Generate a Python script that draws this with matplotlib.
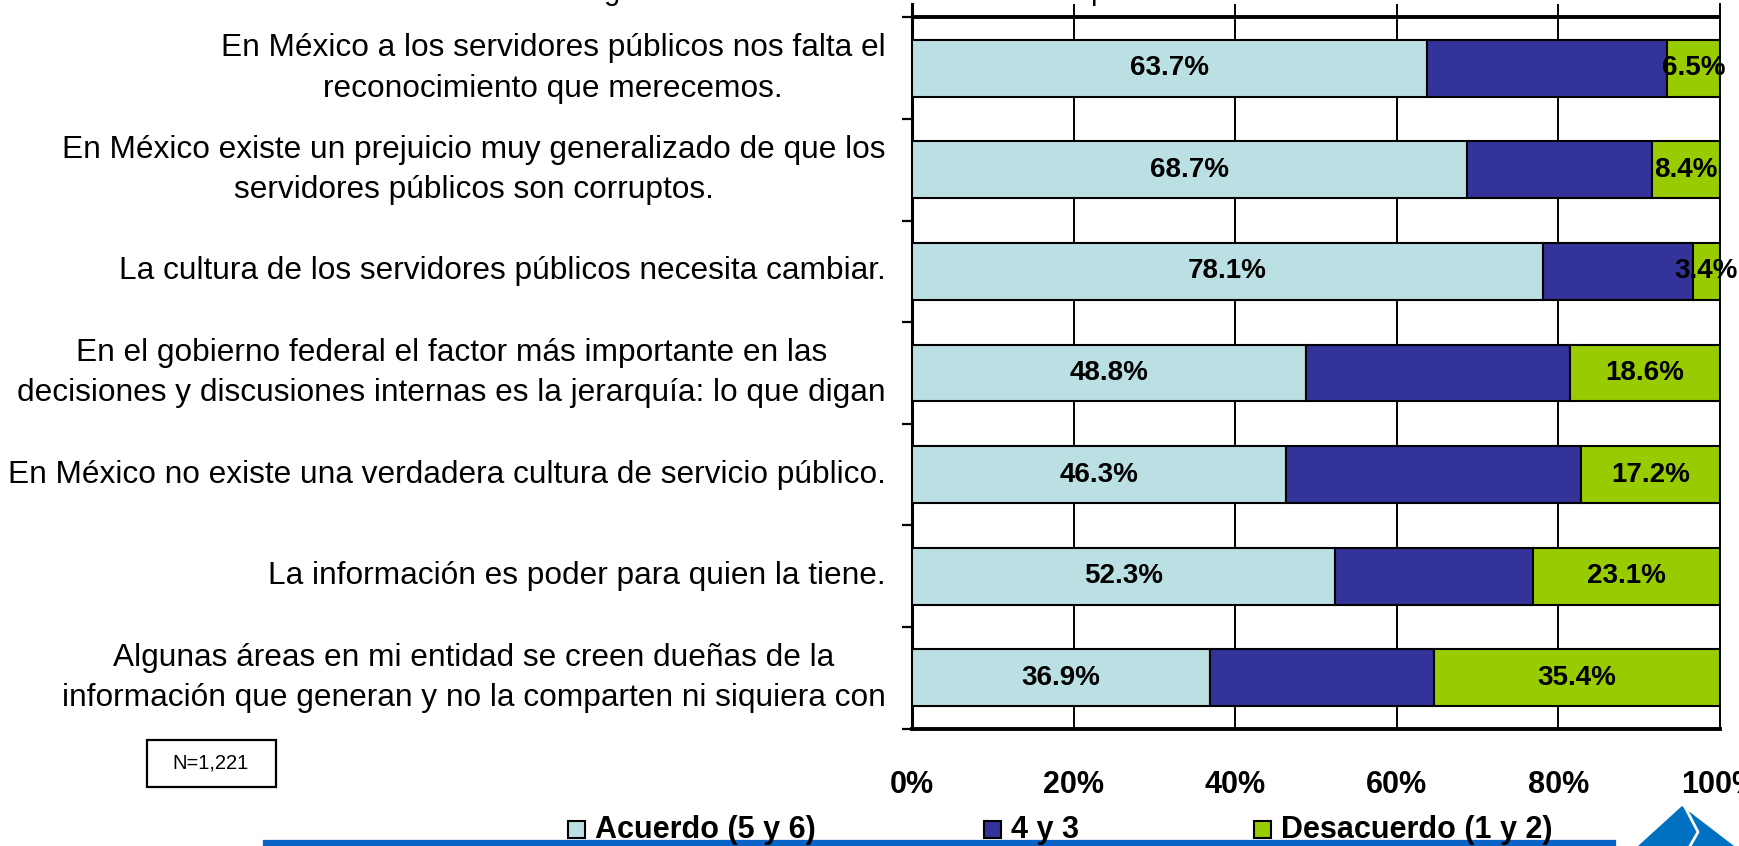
import numpy as np
import matplotlib

matplotlib.use("Agg")
import matplotlib.pyplot as plt
from matplotlib.patches import Rectangle, Polygon
from matplotlib.lines import Line2D

plt.rcParams["font.family"] = ["Liberation Sans", "DejaVu Sans"]

categories = [
    "En México a los servidores públicos nos falta el\nreconocimiento que merecemos.",
    "En México existe un prejuicio muy generalizado de que los\nservidores públicos son corruptos.",
    "La cultura de los servidores públicos necesita cambiar.",
    "En el gobierno federal el factor más importante en las\ndecisiones y discusiones internas es la jerarquía: lo que digan",
    "En México no existe una verdadera cultura de servicio público.",
    "La información es poder para quien la tiene.",
    "Algunas áreas en mi entidad se creen dueñas de la\ninformación que generan y no la comparten ni siquiera con",
]
acuerdo = [63.7, 68.7, 78.1, 48.8, 46.3, 52.3, 36.9]
medio = [29.8, 22.9, 18.5, 32.6, 36.5, 24.6, 27.7]
desacuerdo = [6.5, 8.4, 3.4, 18.6, 17.2, 23.1, 35.4]

series_names = ["Acuerdo (5 y 6)", "4 y 3", "Desacuerdo (1 y 2)"]
colors = ["#BBE0E3", "#333399", "#99CC00"]
x_ticks = [0, 20, 40, 60, 80, 100]
x_ticklabels = ["0%", "20%", "40%", "60%", "80%", "100%"]

W, H = 1739, 846
fig = plt.figure(figsize=(W / 100, H / 100), dpi=100)


def fx(px):
    return px / W


def fy(py):
    return 1 - py / H


ax = fig.add_axes([fx(912), fy(728.6), fx(1720) - fx(912), fy(4) - fy(728.6)])

y = np.arange(len(categories))
left = np.zeros(len(categories))
containers = []
for vals, color in zip([acuerdo, medio, desacuerdo], colors):
    c = ax.barh(y, vals, left=left, height=0.56, color=color,
                edgecolor="black", linewidth=1.5, zorder=3)
    containers.append(c)
    left = left + np.array(vals)

for c in (containers[0], containers[2]):
    ax.bar_label(c, labels=[f"{v:.1f}%" for v in c.datavalues], label_type="center",
                 fontsize=20, fontweight="bold", color="black", zorder=5)

ax.set_xlim(0, 100)
ax.set_ylim(6.5, -0.632)
ax.set_axisbelow(True)
for xv in x_ticks[1:-1]:
    ax.axvline(xv, color="black", linewidth=1.4, zorder=1)
ax.axhline(-0.5, color="black", linewidth=2.8, zorder=2)

ax.set_xticks(x_ticks)
ax.set_xticklabels(x_ticklabels, fontsize=22, fontweight="bold")
ax.tick_params(axis="x", length=0, pad=30)

ax.set_yticks(y)
ax.set_yticklabels(categories, fontsize=22.8, linespacing=1.46)
for lab in ax.get_yticklabels():
    lab.set_multialignment("center")
    lab.set_verticalalignment("center")
ax.tick_params(axis="y", which="major", length=0, pad=19)
ax.set_yticks(np.arange(-0.5, len(categories), 1), minor=True)
ax.tick_params(axis="y", which="minor", length=7, width=1.6, direction="out")

ax.spines["top"].set_visible(False)
ax.spines["left"].set_linewidth(2.2)
ax.spines["bottom"].set_linewidth(2.8)
ax.spines["right"].set_linewidth(1.4)

# bottom banner line
fig.add_artist(Line2D([fx(266), fx(1613)], [fy(843), fy(843)], color="#0A64C8",
                      linewidth=4.5, zorder=1))

# legend drawn by hand
legend_x = [568, 984, 1254]
for name, color, lx in zip(series_names, colors, legend_x):
    fig.add_artist(Rectangle((fx(lx), fy(838)), fx(17), 17 / H, facecolor=color,
                             edgecolor="black", linewidth=1.5, zorder=3))
    fig.text(fx(lx + 27), fy(830), name, fontsize=22, fontweight="bold",
             va="center", ha="left", zorder=4)

# sample size box
fig.add_artist(Rectangle((fx(147), fy(787)), fx(276 - 147), (787 - 740) / H,
                         facecolor="white", edgecolor="black", linewidth=1.6))
fig.text(fx(211), fy(763), "N=1,221", fontsize=14.5, ha="center", va="center")

# title line running off the top edge
fig.text(fx(604), fy(0.3), "grado de acuerdo o desacuerdo con que", fontsize=21,
         ha="left", va="baseline")

# corner logo
fig.add_artist(Polygon([(fx(1682), fy(806)), (fx(1638), fy(846)), (fx(1734), fy(846))],
                       closed=True, facecolor="#0070C0", edgecolor="none"))
fig.add_artist(Line2D([fx(1685), fx(1698), fx(1690)], [fy(807), fy(832), fy(846)],
                      color="white", linewidth=2))

fig.savefig("out.png", dpi=100)
